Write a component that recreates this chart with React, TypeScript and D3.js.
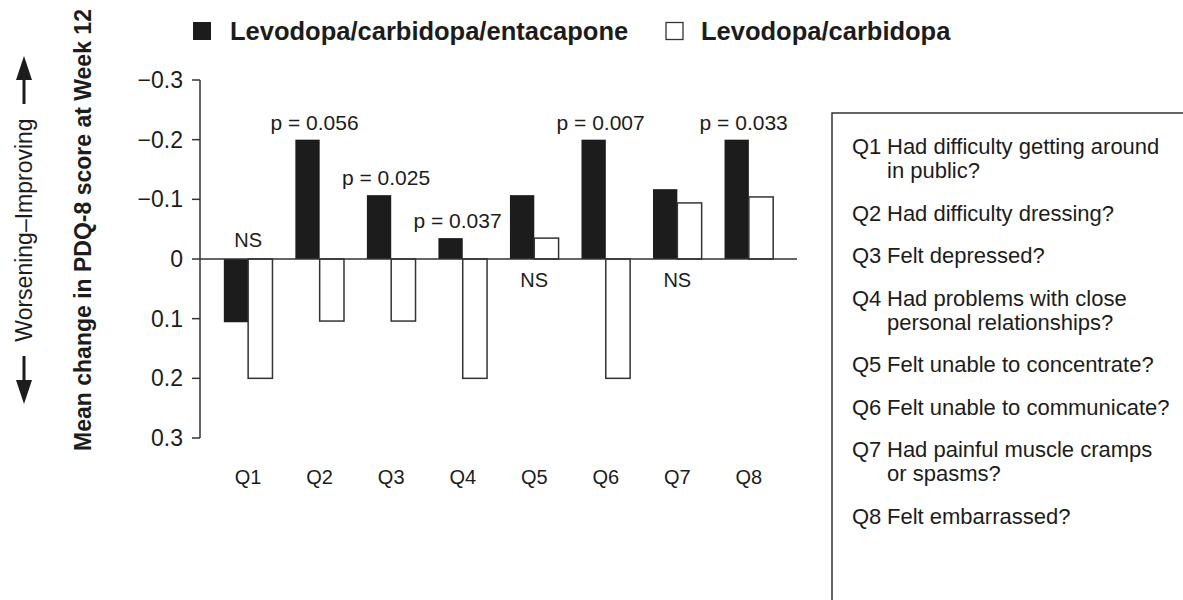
import React from "react";
import * as d3 from "d3";

const questions = ["Q1", "Q2", "Q3", "Q4", "Q5", "Q6", "Q7", "Q8"];
// mean change in PDQ-8 item score at week 12 (negative = improving)
const entacaponeValues = [0.106, -0.2, -0.107, -0.035, -0.107, -0.2, -0.117, -0.2];
const carbidopaValues = [0.2, 0.104, 0.104, 0.2, -0.035, 0.2, -0.094, -0.104];
const significance = ["NS", "p = 0.056", "p = 0.025", "p = 0.037", "NS", "p = 0.007", "NS", "p = 0.033"];
const yTicks = [-0.3, -0.2, -0.1, 0, 0.1, 0.2, 0.3];
const seriesNames = ["Levodopa/carbidopa/entacapone", "Levodopa/carbidopa"];
const questionText = [
  ["Had difficulty getting around", "in public?"],
  ["Had difficulty dressing?"],
  ["Felt depressed?"],
  ["Had problems with close", "personal relationships?"],
  ["Felt unable to concentrate?"],
  ["Felt unable to communicate?"],
  ["Had painful muscle cramps", "or spasms?"],
  ["Felt embarrassed?"],
];

const W = 1183;
const H = 600;
const FONT = "'Liberation Sans', Arial, Helvetica, sans-serif";
const INK = "#1c1c1c";
const LINE = "#333";

export default function App() {
  const x = d3
    .scaleBand()
    .domain(questions)
    .range([200, 797])
    .paddingInner(0.32)
    .paddingOuter(0.333);
  const y = d3.scaleLinear().domain([-0.3, 0.3]).range([80, 438]);
  const bw = x.bandwidth() / 2;
  const y0 = y(0);
  const fmt = (v: number) => (v === 0 ? "0" : d3.format(".1f")(v));

  // legend box line positions
  const rows: { q: string; lines: string[]; y: number }[] = [];
  let cy = 154;
  questions.forEach((q, i) => {
    rows.push({ q, lines: questionText[i], y: cy });
    cy += 42.5 + (questionText[i].length - 1) * 24;
  });

  return (
    <svg
      width={W}
      height={H}
      style={{ position: "absolute", left: 0, top: 0, background: "#fff" }}
      fontFamily={FONT}
    >
      {/* top legend */}
      <rect x={193} y={22} width={18} height={18} fill={INK} />
      <text x={230} y={40} fontSize={25.5} fontWeight="bold" fill={INK}>
        {seriesNames[0]}
      </text>
      <rect x={666} y={22.5} width={17} height={17} fill="#fff" stroke={LINE} strokeWidth={1.3} />
      <text x={701} y={40} fontSize={25.5} fontWeight="bold" fill={INK}>
        {seriesNames[1]}
      </text>

      {/* y titles */}
      <text
        transform="translate(83,230) rotate(-90)"
        textAnchor="middle"
        dy="0.35em"
        fontSize={23}
        fontWeight="bold"
        fill={INK}
      >
        Mean change in PDQ-8 score at Week 12
      </text>
      <text
        transform="translate(24,230) rotate(-90)"
        textAnchor="middle"
        dy="0.35em"
        fontSize={23}
        fill={INK}
      >
        Worsening–Improving
      </text>
      {/* arrows */}
      <line x1={24} x2={24} y1={104} y2={74} stroke={INK} strokeWidth={3} />
      <path d="M24,56 L16,80 L32,80 Z" fill={INK} />
      <line x1={24} x2={24} y1={356} y2={386} stroke={INK} strokeWidth={3} />
      <path d="M24,404 L16,380 L32,380 Z" fill={INK} />

      {/* y axis */}
      <line x1={200} x2={200} y1={y(-0.3)} y2={y(0.3)} stroke={LINE} strokeWidth={1.5} />
      {yTicks.map((t) => (
        <g key={t}>
          <line x1={192} x2={200} y1={y(t)} y2={y(t)} stroke={LINE} strokeWidth={1.5} />
          <text x={183} y={y(t)} dy="0.35em" textAnchor="end" fontSize={23} fill={INK}>
            {fmt(t)}
          </text>
        </g>
      ))}

      {/* bars */}
      {questions.map((q, i) => {
        const bx = x(q) as number;
        const a = entacaponeValues[i];
        const b = carbidopaValues[i];
        return (
          <g key={q}>
            <rect
              x={bx}
              y={Math.min(y(a), y0)}
              width={bw}
              height={Math.abs(y(a) - y0)}
              fill={INK}
            />
            <rect
              x={bx + bw}
              y={Math.min(y(b), y0)}
              width={bw}
              height={Math.abs(y(b) - y0)}
              fill="#fff"
              stroke={LINE}
              strokeWidth={1.5}
            />
          </g>
        );
      })}

      {/* zero line */}
      <line x1={200} x2={797} y1={y0} y2={y0} stroke={LINE} strokeWidth={1.5} />

      {/* significance labels */}
      {questions.map((q, i) => {
        const bx = x(q) as number;
        const s = significance[i];
        if (s === "NS") {
          const up = Math.min(entacaponeValues[i], carbidopaValues[i]) < 0;
          return (
            <text
              key={q}
              x={bx + bw}
              y={up ? y0 + 28 : y0 - 12}
              textAnchor="middle"
              fontSize={20}
              fill={INK}
            >
              {s}
            </text>
          );
        }
        return (
          <text
            key={q}
            x={bx + bw / 2 + 7}
            y={y(entacaponeValues[i]) - 10}
            textAnchor="middle"
            fontSize={21}
            fill={INK}
          >
            {s}
          </text>
        );
      })}

      {/* x labels */}
      {questions.map((q) => (
        <text
          key={q}
          x={(x(q) as number) + bw}
          y={484}
          textAnchor="middle"
          fontSize={20}
          fill={INK}
        >
          {q}
        </text>
      ))}

      {/* question key box */}
      <rect x={832} y={113} width={420} height={520} fill="none" stroke={LINE} strokeWidth={1.5} />
      {rows.map((r) => (
        <g key={r.q}>
          <text x={852} y={r.y} fontSize={22} fill={INK}>
            {r.q}
          </text>
          {r.lines.map((l, j) => (
            <text key={j} x={887} y={r.y + j * 24} fontSize={22} fill={INK}>
              {l}
            </text>
          ))}
        </g>
      ))}
    </svg>
  );
}
